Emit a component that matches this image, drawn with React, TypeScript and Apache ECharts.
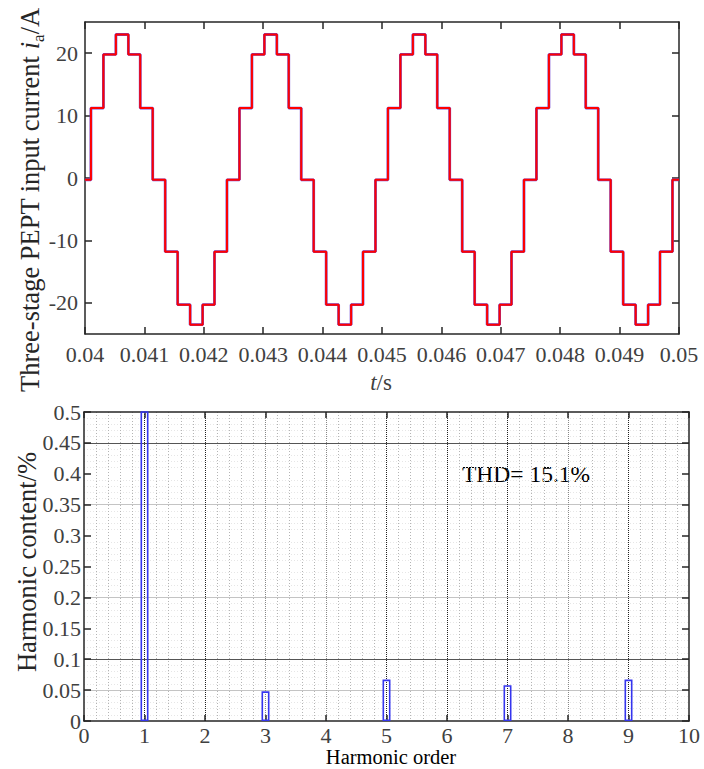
import React, { useEffect, useRef } from "react";
import * as echarts from "echarts";

// ---- Top chart: three-stage PEPT input current (step waveform) ----
const waveTimes = [
  0.04,
  0.0401, 0.04031, 0.04052, 0.04073, 0.04093, 0.04114, 0.04135, 0.04156, 0.04177, 0.04198, 0.04218, 0.04239,
  0.0426, 0.04281, 0.04302, 0.04323, 0.04343, 0.04364, 0.04385, 0.04406, 0.04427, 0.04448, 0.04468, 0.04489,
  0.0451, 0.04531, 0.04552, 0.04573, 0.04593, 0.04614, 0.04635, 0.04656, 0.04677, 0.04698, 0.04718, 0.04739,
  0.0476, 0.04781, 0.04802, 0.04823, 0.04843, 0.04864, 0.04885, 0.04906, 0.04927, 0.04948, 0.04968, 0.04989,
  0.05,
];
const waveValues = [
  -0.3,
  11.2, 19.8, 23.0, 19.8, 11.2, -0.3, -11.8, -20.3, -23.5, -20.3, -11.8, -0.3,
  11.2, 19.8, 23.0, 19.8, 11.2, -0.3, -11.8, -20.3, -23.5, -20.3, -11.8, -0.3,
  11.2, 19.8, 23.0, 19.8, 11.2, -0.3, -11.8, -20.3, -23.5, -20.3, -11.8, -0.3,
  11.2, 19.8, 23.0, 19.8, 11.2, -0.3, -11.8, -20.3, -23.5, -20.3, -11.8, -0.3,
  -0.3,
];
const currentTicks = [-20, -10, 0, 10, 20];

// ---- Bottom chart: harmonic spectrum ----
const harmonicOrders = [1, 3, 5, 7, 9];
const harmonicContent = [1.0, 0.048, 0.067, 0.058, 0.067];
const thdLabel = "THD= 15.1%";

const FONT = "Liberation Serif";
const AXIS = "#262626";
const LABEL = "#404040";

export default function App() {
  const ref = useRef<HTMLDivElement>(null);

  useEffect(() => {
    if (!ref.current) return;
    const chart = echarts.init(ref.current, undefined, { renderer: "svg" });

    const wave = waveTimes.map((t, i) => [t, waveValues[i]]);
    const bars = harmonicOrders.map((h, i) => [h, harmonicContent[i]]);

    const axisLine = { show: true, onZero: false, lineStyle: { color: AXIS, width: 1.5 } };
    const tickIn = { show: true, inside: true, length: 7, lineStyle: { color: AXIS, width: 1.5 } };
    const lbl = { color: LABEL, fontFamily: FONT, fontSize: 22 };

    const T = "rgba(0,0,0,0)";
    const xSplitColors = [T, "#222", "#222", "#888", "#888", "#222", "#222", "#222", "#888", "#222", T];
    const ySplitColors = [T, "#c4c4c4", "#555", T, "#c4c4c4", T, T, "#c4c4c4", T, "#555", T];

    const option: any = {
      animation: false,
      backgroundColor: "#fff",
      grid: [
        { left: 85, right: 25, top: 22, height: 312, containLabel: false },
        { left: 84, right: 15, top: 412, height: 309, containLabel: false },
      ],
      xAxis: [
        {
          type: "value", gridIndex: 0, min: 0.04, max: 0.05, interval: 0.001,
          axisLine, axisTick: tickIn,
          axisLabel: { ...lbl, margin: 9, formatter: (v: number) => String(parseFloat(v.toFixed(3))) },
          splitLine: { show: false },
        },
        {
          type: "value", gridIndex: 0, position: "top", min: 0.04, max: 0.05, interval: 0.001,
          axisLine, axisTick: tickIn, axisLabel: { show: false }, splitLine: { show: false },
        },
        {
          type: "value", gridIndex: 1, min: 0, max: 10, interval: 1,
          axisLine, axisTick: { ...tickIn, length: 6 },
          axisLabel: { ...lbl, margin: 3 },
          splitLine: { show: true, lineStyle: { color: xSplitColors, width: 1, type: [1, 1] } },
          minorTick: { show: false, splitNumber: 5 },
          minorSplitLine: { show: true, lineStyle: { color: "#b4b4b4", width: 1, type: [1, 2] } },
        },
        {
          type: "value", gridIndex: 1, position: "top", min: 0, max: 10, interval: 1,
          axisLine, axisTick: { ...tickIn, length: 6 }, axisLabel: { show: false }, splitLine: { show: false },
        },
      ],
      yAxis: [
        {
          type: "value", gridIndex: 0, min: -25, max: 25,
          axisLine,
          axisTick: { ...tickIn, customValues: currentTicks },
          axisLabel: { ...lbl, margin: 7, customValues: currentTicks },
          splitLine: { show: false },
        },
        {
          type: "value", gridIndex: 0, position: "right", min: -25, max: 25,
          axisLine,
          axisTick: { ...tickIn, customValues: currentTicks },
          axisLabel: { show: false },
          splitLine: { show: false },
        },
        {
          type: "value", gridIndex: 1, min: 0, max: 0.5, interval: 0.05,
          axisLine, axisTick: tickIn,
          axisLabel: { ...lbl, margin: 3, formatter: (v: number) => String(parseFloat(v.toFixed(2))) },
          splitLine: { show: true, lineStyle: { color: ySplitColors, width: 1, type: "solid" } },
          minorTick: { show: false, splitNumber: 5 },
          minorSplitLine: { show: true, lineStyle: { color: "#e6e6e6", width: 1, type: [1, 2] } },
        },
        {
          type: "value", gridIndex: 1, position: "right", min: 0, max: 0.5, interval: 0.05,
          axisLine, axisTick: tickIn, axisLabel: { show: false }, splitLine: { show: false },
        },
      ],
      series: [
        {
          type: "line", xAxisIndex: 0, yAxisIndex: 0, data: wave, step: "end",
          showSymbol: false, symbol: "none", silent: true,
          lineStyle: { color: "#7048d0", width: 2.8 },
        },
        {
          type: "line", xAxisIndex: 0, yAxisIndex: 0, data: wave, step: "end",
          showSymbol: false, symbol: "none", silent: true,
          lineStyle: { color: "#ff0000", width: 2 },
        },
        {
          type: "bar", xAxisIndex: 2, yAxisIndex: 2, data: bars, barWidth: 8, clip: true,
          itemStyle: { color: T, borderColor: "#3535ee", borderWidth: 1.6 },
        },
      ],
      graphic: [
        {
          type: "text", x: 30, y: 200, rotation: Math.PI / 2,
          style: {
            text: "{n|Three-stage PEPT input current }{i|i}{s|a}{n|/A}",
            align: "center", verticalAlign: "middle",
            fill: AXIS, fontFamily: FONT, fontSize: 26.5,
            rich: {
              n: { fontFamily: FONT, fontSize: 26.5, fill: AXIS, lineHeight: 34 },
              i: { fontFamily: FONT, fontSize: 26.5, fill: AXIS, fontStyle: "italic", lineHeight: 34 },
              s: { fontFamily: FONT, fontSize: 17, fill: AXIS, lineHeight: 23, verticalAlign: "bottom" },
            },
          },
        },
        {
          type: "text", x: 381, y: 382,
          style: {
            text: "{i|t}{n|/s}",
            align: "center", verticalAlign: "middle",
            fill: LABEL, fontFamily: FONT, fontSize: 23,
            rich: {
              i: { fontFamily: FONT, fontSize: 23, fill: LABEL, fontStyle: "italic" },
              n: { fontFamily: FONT, fontSize: 23, fill: LABEL },
            },
          },
        },
        {
          type: "text", x: 27, y: 562, rotation: Math.PI / 2,
          style: {
            text: "Harmonic content/%",
            align: "center", verticalAlign: "middle",
            fill: AXIS, fontFamily: FONT, fontSize: 26.5,
          },
        },
        {
          type: "text", x: 391, y: 757,
          style: {
            text: "Harmonic order",
            align: "center", verticalAlign: "middle",
            fill: "#000", fontFamily: FONT, fontSize: 20.5,
          },
        },
        {
          type: "text", x: 462, y: 474,
          style: {
            text: thdLabel,
            align: "left", verticalAlign: "middle",
            fill: "#000", fontFamily: FONT, fontSize: 23.5,
          },
        },
      ],
    };

    chart.setOption(option);
    return () => chart.dispose();
  }, []);

  return (
    <div
      ref={ref}
      style={{ position: "fixed", left: 0, top: 0, width: 704, height: 769, background: "#fff" }}
    />
  );
}
